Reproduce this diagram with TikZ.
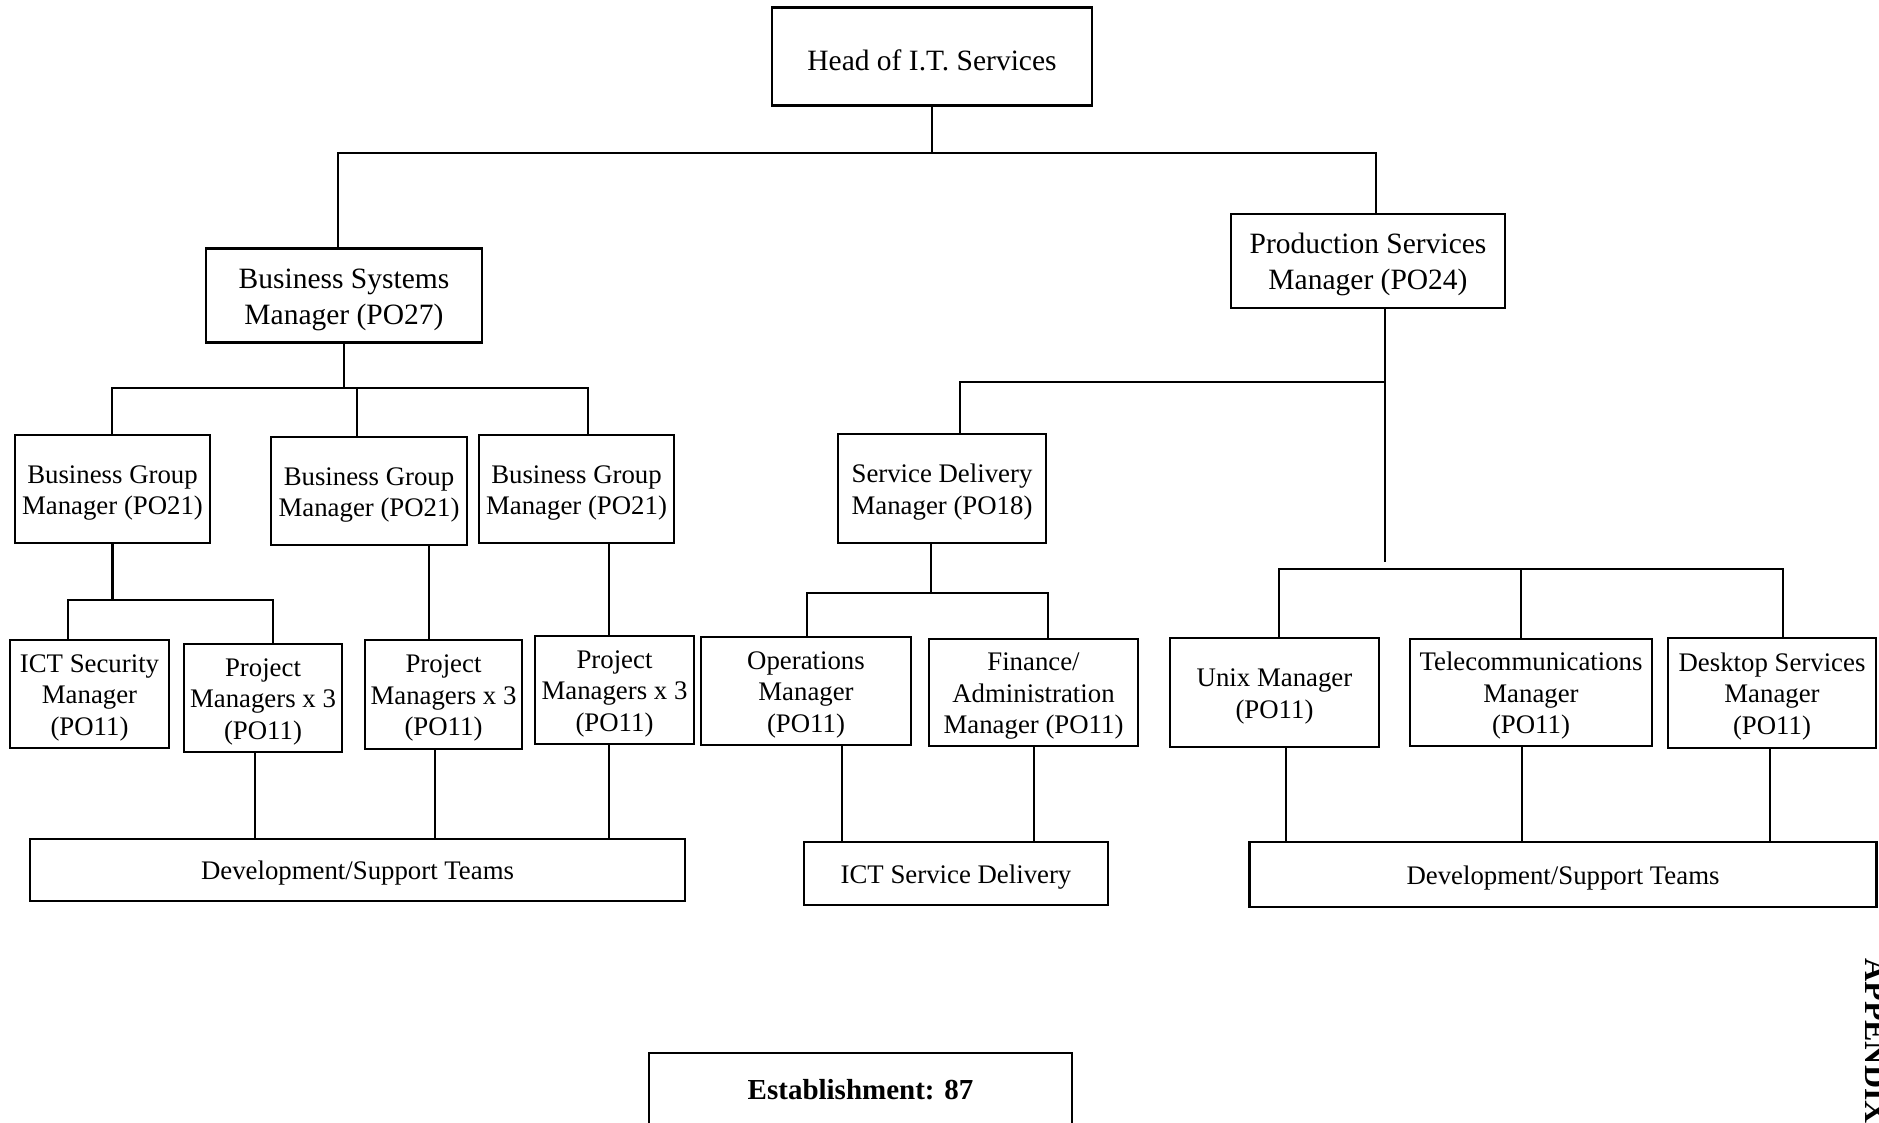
\documentclass[tikz,border=0pt]{standalone}
\usepackage{fontspec}
\setmainfont{Liberation Serif}
\newcommand\bigtxt{\fontsize{14.75}{18}\selectfont}
\newcommand\smalltxt{\fontsize{13.4}{15.8}\selectfont}
% strut on the first line of each box, so the text sits slightly low in its frame
\newcommand\lift{\rule{0pt}{0.95em}}
\begin{document}
\begin{tikzpicture}[x=0.5pt, y=-0.5pt,
  box/.style={draw, line width=1.3pt, align=center, inner sep=0pt, font=\smalltxt},
  topbox/.style={box, font=\bigtxt},
  wh/.style 2 args={minimum width=#1*0.5pt, minimum height=#2*0.5pt},
  wire/.style={line width=1.1pt}]
\path[use as bounding box, fill=white] (0,0) rectangle (1879,1123);

% --- management tiers ---
\node[topbox, wh={320}{98}] (head) at (932,56.5) {\lift Head of I.T. Services};
\node[topbox, wh={276}{94}] (bsm) at (344,295.5) {\lift Business Systems\\Manager (PO27)};
\node[topbox, wh={274}{94}] (psm) at (1368,261) {\lift Production Services\\Manager (PO24)};

\node[box, wh={195}{108}] (bg1) at (112.5,489) {\lift Business Group\\Manager (PO21)};
\node[box, wh={196}{108}] (bg2) at (369,491) {\lift Business Group\\Manager (PO21)};
\node[box, wh={195}{108}] (bg3) at (576.5,489) {\lift Business Group\\Manager (PO21)};
\node[box, wh={208}{109}] (sdm) at (942,488.5) {\lift Service Delivery\\Manager (PO18)};

\node[box, wh={159}{108}] (ict)  at (89.5,694)   {\lift ICT Security\\Manager\\(PO11)};
\node[box, wh={158}{108}] (pm1)  at (263,698)    {\lift Project\\Managers x 3\\(PO11)};
\node[box, wh={157}{109}] (pm2)  at (443.5,694.5){\lift Project\\Managers x 3\\(PO11)};
\node[box, wh={159}{108}] (pm3)  at (614.5,690)  {\lift Project\\Managers x 3\\(PO11)};
\node[box, wh={210}{108}] (ops)  at (806,691)    {\lift Operations\\Manager\\(PO11)};
\node[box, wh={209}{107}] (fin)  at (1033.5,692.5){\lift Finance/\\Administration\\Manager (PO11)};
\node[box, wh={209}{109}] (unix) at (1274.5,692.5){\lift Unix Manager\\(PO11)};
\node[box, wh={242}{107}] (tele) at (1531,692.5) {\lift Telecommunications\\Manager\\(PO11)};
\node[box, wh={208}{110}] (desk) at (1772,693)   {\lift Desktop Services\\Manager\\(PO11)};

% --- teams ---
\node[box, wh={655}{62}] (dev1)  at (357.5,870)  {\lift Development/Support Teams};
\node[box, wh={304}{63}] (ictsd) at (956,873.5)  {\lift ICT Service Delivery};
\node[box, wh={627}{65}] (dev2)  at (1563,874.5) {\lift Development/Support Teams};

\node[box, wh={423}{74}, font=\bfseries\fontsize{14.5}{16}\selectfont] (est) at (860.5,1090) {Establishment: 87};

\node[font=\bfseries\fontsize{16}{16}\selectfont, rotate=-90, anchor=base west, inner sep=0pt] (app) at (1865,958) {APPENDIX};

% --- bus junctions ---
\coordinate (t0) at (932,153);
\coordinate (b1) at (344,388);
\coordinate (b2) at (357,388);
\coordinate (g1) at (112.5,600);
\coordinate (p0) at (1385,562);
\coordinate (p1) at (1385,382);
\coordinate (p2) at (1521,569);
\coordinate (s1) at (931,593);

% --- connectors ---
\draw[wire] (head.south) -- (t0);
\draw[wire] (bsm.north -| 338,0) |- (t0) -| (psm.north -| 1376,0);

\draw[wire] (bsm.south) -- (b1);
\draw[wire] (bg1.north -| 112,0) |- (b1) -| (bg3.north -| 588,0);
\draw[wire] (bg2.north -| 357,0) -- (b2);

\draw[wire] (bg1.south) -- (g1);
\draw[wire] (ict.north -| 68,0) |- (g1) -| (pm1.north -| 273,0);
\draw[wire] (bg2.south -| 429,0) -- (pm2.north -| 429,0);
\draw[wire] (bg3.south -| 609,0) -- (pm3.north -| 609,0);

\draw[wire] (psm.south -| 1385,0) -- (p0);
\draw[wire] (sdm.north -| 960,0) |- (p1);
\draw[wire] (unix.north -| 1279,0) |- (p2) -| (desk.north -| 1783,0);
\draw[wire] (tele.north -| 1521,0) -- (p2);

\draw[wire] (sdm.south -| 931,0) -- (s1);
\draw[wire] (ops.north -| 807,0) |- (s1) -| (fin.north -| 1048,0);

\draw[wire] (pm1.south -| 255,0) -- (dev1.north -| 255,0);
\draw[wire] (pm2.south -| 435,0) -- (dev1.north -| 435,0);
\draw[wire] (pm3.south -| 609,0) -- (dev1.north -| 609,0);
\draw[wire] (ops.south -| 842,0) -- (ictsd.north -| 842,0);
\draw[wire] (fin.south -| 1034,0) -- (ictsd.north -| 1034,0);
\draw[wire] (unix.south -| 1286,0) -- (dev2.north -| 1286,0);
\draw[wire] (tele.south -| 1522,0) -- (dev2.north -| 1522,0);
\draw[wire] (desk.south -| 1770,0) -- (dev2.north -| 1770,0);
\end{tikzpicture}
\end{document}
